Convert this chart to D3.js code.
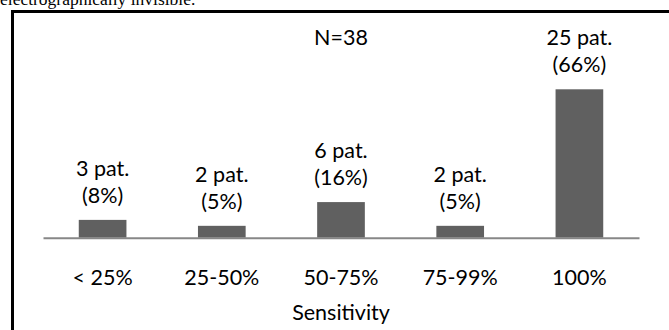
<!DOCTYPE html>
<html>
<head>
<meta charset="utf-8">
<script src="https://cdn.jsdelivr.net/npm/d3@7/dist/d3.min.js"></script>
<style>
  html, body { margin: 0; padding: 0; background: #fff; }
  svg { display: block; }
</style>
</head>
<body>
<svg id="chart" width="669" height="330"></svg>
<script>
const categories = ["< 25%", "25-50%", "50-75%", "75-99%", "100%"];
const patients = [3, 2, 6, 2, 25];
const percents = ["8%", "5%", "16%", "5%", "66%"];
const totalLabel = "N=38";
const xTitle = "Sensitivity";
const captionText = "electrographically invisible.";

const svg = d3.select("#chart");
const W = 669, H = 330;
const FONT = "Lato, 'Noto Sans', sans-serif";
const FS = 21.5;

// caption remnant above the box (cut off at the top, as in the reference)
svg.append("text")
  .attr("x", 0).attr("y", 4.5)
  .attr("font-family", "'Liberation Serif', 'Times New Roman', serif")
  .attr("font-size", 17.5)
  .attr("fill", "#000")
  .text(captionText);

// box border (left + top)
svg.append("line").attr("x1", 12.5).attr("x2", 12.5).attr("y1", 10).attr("y2", H)
  .attr("stroke", "#000").attr("stroke-width", 3);
svg.append("line").attr("x1", 11).attr("x2", W).attr("y1", 11.5).attr("y2", 11.5)
  .attr("stroke", "#000").attr("stroke-width", 3);

const x = d3.scaleBand()
  .domain(categories)
  .range([43, 639])
  .paddingInner(0.6)
  .paddingOuter(0.3);

const y = d3.scaleLinear()
  .domain([0, 25])
  .range([237.7, 89.3]);

// bars
svg.append("g").selectAll("rect")
  .data(categories)
  .join("rect")
  .attr("x", d => x(d))
  .attr("width", x.bandwidth())
  .attr("y", (d, i) => y(patients[i]))
  .attr("height", (d, i) => y(0) - y(patients[i]))
  .attr("fill", "#606060");

// x axis line
const axis = d3.axisBottom(x).tickSize(0).tickPadding(0).tickSizeOuter(0);
const gAxis = svg.append("g").attr("transform", `translate(0,${y(0)})`).call(axis);
gAxis.select(".domain").attr("stroke", "#878787").attr("stroke-width", 2);
gAxis.selectAll(".tick text")
  .attr("y", 47.5)
  .attr("dy", 0)
  .attr("font-family", FONT)
  .attr("font-size", FS)
  .attr("fill", "#000");

// data labels
const lbl = svg.append("g").attr("font-family", FONT).attr("font-size", FS)
  .attr("text-anchor", "middle").attr("fill", "#000");
categories.forEach((c, i) => {
  const cx = x(c) + x.bandwidth() / 2;
  const base2 = y(patients[i]) - 17;
  lbl.append("text").attr("x", cx).attr("y", base2 - 27).text(patients[i] + " pat.");
  lbl.append("text").attr("x", cx).attr("y", base2).text("(" + percents[i] + ")");
});

// N label
svg.append("text")
  .attr("x", x("50-75%") + x.bandwidth() / 2).attr("y", 44.5)
  .attr("text-anchor", "middle")
  .attr("font-family", FONT).attr("font-size", FS)
  .text(totalLabel);

// x axis title
svg.append("text")
  .attr("x", (43 + 639) / 2).attr("y", 320)
  .attr("text-anchor", "middle")
  .attr("font-family", FONT).attr("font-size", FS)
  .text(xTitle);
</script>
</body>
</html>
